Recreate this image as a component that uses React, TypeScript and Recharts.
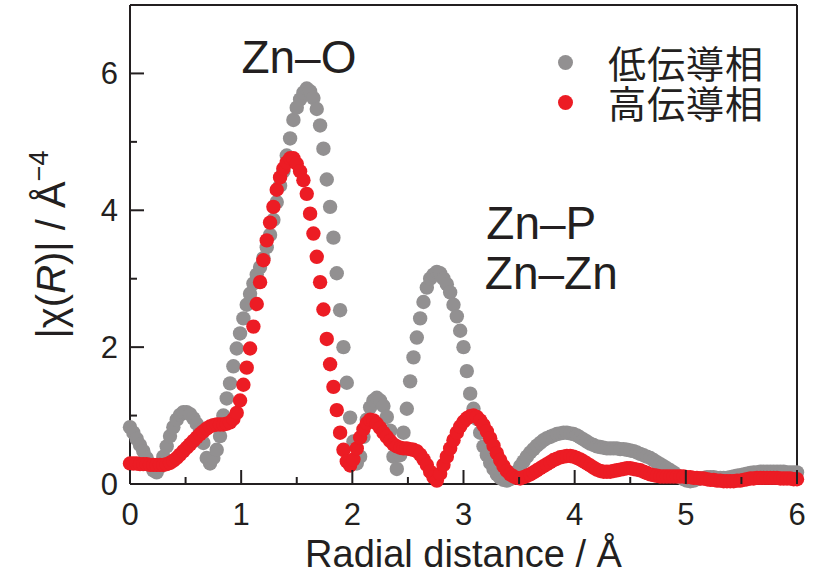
import React from 'react';
import { ScatterChart, Scatter, XAxis, YAxis, ReferenceDot, Legend } from 'recharts';

// Radial distance grid (Å)
const R = [
  0.00, 0.03, 0.06, 0.09, 0.12, 0.15, 0.18, 0.21, 0.24, 0.27,
  0.30, 0.33, 0.36, 0.39, 0.42, 0.45, 0.48, 0.51, 0.54, 0.57,
  0.60, 0.63, 0.66, 0.69, 0.72, 0.75, 0.78, 0.81, 0.84, 0.87,
  0.90, 0.93, 0.96, 0.99, 1.02, 1.05, 1.08, 1.11, 1.14, 1.17,
  1.20, 1.23, 1.26, 1.29, 1.32, 1.35, 1.38, 1.41, 1.44, 1.47,
  1.50, 1.53, 1.56, 1.59, 1.62, 1.65, 1.68, 1.71, 1.74, 1.77,
  1.80, 1.83, 1.86, 1.89, 1.92, 1.95, 1.98, 2.01, 2.04, 2.07,
  2.10, 2.13, 2.16, 2.19, 2.22, 2.25, 2.28, 2.31, 2.34, 2.37,
  2.40, 2.43, 2.46, 2.49, 2.52, 2.55, 2.58, 2.61, 2.64, 2.67,
  2.70, 2.73, 2.76, 2.79, 2.82, 2.85, 2.88, 2.91, 2.94, 2.97,
  3.00, 3.03, 3.06, 3.09, 3.12, 3.15, 3.18, 3.21, 3.24, 3.27,
  3.30, 3.33, 3.36, 3.39, 3.42, 3.45, 3.48, 3.51, 3.54, 3.57,
  3.60, 3.63, 3.66, 3.69, 3.72, 3.75, 3.78, 3.81, 3.84, 3.87,
  3.90, 3.93, 3.96, 3.99, 4.02, 4.05, 4.08, 4.11, 4.14, 4.17,
  4.20, 4.23, 4.26, 4.29, 4.32, 4.35, 4.38, 4.41, 4.44, 4.47,
  4.50, 4.53, 4.56, 4.59, 4.62, 4.65, 4.68, 4.71, 4.74, 4.77,
  4.80, 4.83, 4.86, 4.89, 4.92, 4.95, 4.98, 5.01, 5.04, 5.07,
  5.10, 5.13, 5.16, 5.19, 5.22, 5.25, 5.28, 5.31, 5.34, 5.37,
  5.40, 5.43, 5.46, 5.49, 5.52, 5.55, 5.58, 5.61, 5.64, 5.67,
  5.70, 5.73, 5.76, 5.79, 5.82, 5.85, 5.88, 5.91, 5.94, 5.97,
  6.00,
];

// 低伝導相 |χ(R)|
const lowPhase = [
  0.83, 0.75, 0.66, 0.57, 0.48, 0.38, 0.28, 0.20, 0.17, 0.25,
  0.40, 0.55, 0.70, 0.83, 0.94, 1.01, 1.05, 1.05, 1.02, 0.96,
  0.88, 0.78, 0.60, 0.38, 0.30, 0.38, 0.50, 0.70, 1.00, 1.25,
  1.47, 1.72, 1.98, 2.20, 2.42, 2.62, 2.78, 2.93, 3.06, 3.17,
  3.30, 3.46, 3.64, 3.86, 4.12, 4.36, 4.57, 4.80, 5.05, 5.32,
  5.50, 5.62, 5.72, 5.78, 5.74, 5.64, 5.48, 5.24, 4.90, 4.45,
  4.05, 3.60, 3.08, 2.54, 2.00, 1.48, 0.97, 0.62, 0.30, 0.40,
  0.69, 0.94, 1.12, 1.22, 1.26, 1.22, 1.14, 0.98, 0.78, 0.40,
  0.22, 0.42, 0.75, 1.10, 1.50, 1.85, 2.14, 2.42, 2.66, 2.87,
  3.00, 3.06, 3.10, 3.08, 3.00, 2.92, 2.80, 2.62, 2.45, 2.24,
  2.00, 1.65, 1.32, 1.10, 0.95, 0.75, 0.55, 0.42, 0.31, 0.22,
  0.14, 0.09, 0.06, 0.05, 0.07, 0.12, 0.18, 0.26, 0.33, 0.40,
  0.46, 0.51, 0.56, 0.60, 0.64, 0.67, 0.69, 0.71, 0.73, 0.74,
  0.75, 0.75, 0.74, 0.73, 0.71, 0.68, 0.65, 0.62, 0.59, 0.57,
  0.55, 0.54, 0.53, 0.52, 0.52, 0.52, 0.52, 0.51, 0.51, 0.50,
  0.49, 0.48, 0.46, 0.44, 0.42, 0.40, 0.38, 0.35, 0.32, 0.29,
  0.26, 0.23, 0.20, 0.17, 0.13, 0.10, 0.07, 0.05, 0.04, 0.05,
  0.07, 0.08, 0.09, 0.10, 0.10, 0.10, 0.09, 0.09, 0.09, 0.09,
  0.10, 0.11, 0.12, 0.13, 0.14, 0.15, 0.16, 0.17, 0.17, 0.18,
  0.18, 0.18, 0.18, 0.18, 0.18, 0.18, 0.18, 0.17, 0.17, 0.17,
  0.17,
];

// 高伝導相 |χ(R)|
const highPhase = [
  0.30, 0.30, 0.30, 0.29, 0.29, 0.29, 0.28, 0.28, 0.28, 0.28,
  0.28, 0.29, 0.31, 0.34, 0.38, 0.43, 0.48, 0.53, 0.58, 0.63,
  0.68, 0.73, 0.77, 0.81, 0.84, 0.86, 0.87, 0.87, 0.87, 0.88,
  0.90, 0.95, 1.04, 1.22, 1.45, 1.70, 1.98, 2.30, 2.63, 2.95,
  3.27, 3.56, 3.82, 4.05, 4.30, 4.48, 4.61, 4.70, 4.76, 4.76,
  4.68, 4.57, 4.44, 4.24, 3.95, 3.66, 3.32, 2.95, 2.55, 2.12,
  1.75, 1.42, 1.08, 0.75, 0.50, 0.33, 0.27, 0.36, 0.52, 0.68,
  0.80, 0.89, 0.94, 0.93, 0.88, 0.82, 0.75, 0.69, 0.63, 0.58,
  0.55, 0.53, 0.52, 0.52, 0.51, 0.50, 0.48, 0.43, 0.36, 0.28,
  0.18, 0.10, 0.05, 0.15, 0.28, 0.40, 0.52, 0.64, 0.75, 0.84,
  0.91, 0.96, 0.99, 1.00, 0.98, 0.93, 0.86, 0.77, 0.67, 0.56,
  0.45, 0.35, 0.26, 0.19, 0.14, 0.11, 0.09, 0.08, 0.10, 0.12,
  0.14, 0.17, 0.20, 0.23, 0.26, 0.29, 0.32, 0.35, 0.37, 0.39,
  0.40, 0.41, 0.41, 0.40, 0.38, 0.36, 0.33, 0.30, 0.27, 0.24,
  0.21, 0.19, 0.18, 0.18, 0.18, 0.19, 0.20, 0.21, 0.22, 0.23,
  0.23, 0.22, 0.21, 0.20, 0.18, 0.16, 0.14, 0.13, 0.12, 0.11,
  0.11, 0.11, 0.11, 0.11, 0.11, 0.11, 0.11, 0.10, 0.10, 0.09,
  0.09, 0.08, 0.08, 0.07, 0.06, 0.06, 0.05, 0.05, 0.04, 0.04,
  0.04, 0.04, 0.05, 0.05, 0.06, 0.07, 0.08, 0.08, 0.09, 0.09,
  0.09, 0.09, 0.09, 0.09, 0.09, 0.08, 0.08, 0.08, 0.08, 0.07,
  0.07,
];

const seriesNames = ['低伝導相', '高伝導相'];
const seriesColors = ['#929091', '#ec1c24'];

const xTicks = [0, 0.5, 1, 1.5, 2, 2.5, 3, 3.5, 4, 4.5, 5, 5.5, 6];
const yTicks = [0, 1, 2, 3, 4, 5, 6];

const annotations = [
  { label: 'Zn–O', x: 1.52, y: 6.0 },
  { label: 'Zn–P', x: 3.7, y: 3.58 },
  { label: 'Zn–Zn', x: 3.79, y: 2.85 },
];

const lowData = R.map((r, i) => ({ r, v: lowPhase[i] }));
const highData = R.map((r, i) => ({ r, v: highPhase[i] }));

const INK = '#231f20';
const FONT = '"Liberation Sans", Arial, Helvetica, sans-serif';
const CJK = '"Noto Sans CJK JP", "Noto Sans CJK SC", sans-serif';
const MAJOR = 14;
const MINOR = 7;

const isInt = (v: number) => Math.abs(v - Math.round(v)) < 1e-6;

const BottomTick = (props: any) => {
  const { x, y, payload } = props;
  const v = payload.value;
  const major = isInt(v);
  return (
    <g>
      <line x1={x} y1={y} x2={x} y2={y - (major ? MAJOR : MINOR)} stroke={INK} strokeWidth={2} />
      {major && (
        <text x={x} y={y + 41} textAnchor="middle" fontSize={31} fill={INK} fontFamily={FONT}>
          {v}
        </text>
      )}
    </g>
  );
};

const TopTick = (props: any) => {
  const { x, y, payload } = props;
  const major = isInt(payload.value);
  return <line x1={x} y1={y} x2={x} y2={y + (major ? MAJOR : MINOR)} stroke={INK} strokeWidth={2} />;
};

const LeftTick = (props: any) => {
  const { x, y, payload } = props;
  const v = payload.value;
  const major = v % 2 === 0;
  return (
    <g>
      <line x1={x} y1={y} x2={x + (major ? MAJOR : MINOR)} y2={y} stroke={INK} strokeWidth={2} />
      {major && (
        <text x={x - 12} y={y + 11} textAnchor="end" fontSize={31} fill={INK} fontFamily={FONT}>
          {v}
        </text>
      )}
    </g>
  );
};

const RightTick = (props: any) => {
  const { x, y, payload } = props;
  const major = payload.value % 2 === 0;
  return <line x1={x} y1={y} x2={x - (major ? MAJOR : MINOR)} y2={y} stroke={INK} strokeWidth={2} />;
};

const XLabel = (props: any) => {
  const vb = props.viewBox || {};
  const cx = vb.x + vb.width / 2;
  return (
    <text x={cx} y={vb.y + 83} textAnchor="middle" fontSize={38} fill={INK} fontFamily={FONT}>
      Radial distance / Å
    </text>
  );
};

const YLabel = (props: any) => {
  const vb = props.viewBox || {};
  const cx = vb.x - 5;
  const cy = vb.y + vb.height / 2;
  return (
    <text
      x={cx}
      y={cy}
      transform={`rotate(-90, ${cx}, ${cy})`}
      textAnchor="middle"
      fontSize={40}
      fill={INK}
      fontFamily={FONT}
    >
      |χ(<tspan fontStyle="italic">R</tspan>)| / Å
      <tspan dy={-17} fontSize={27}>−4</tspan>
    </text>
  );
};

const makeDot = (color: string) => (p: any) =>
  <circle cx={p.cx} cy={p.cy} r={7.2} fill={color} />;

const makeText = (label: string) => (p: any) => (
  <text x={p.cx} y={p.cy} textAnchor="middle" fontSize={46} fill={INK} fontFamily={FONT}>
    {label}
  </text>
);

const LegendContent = () => (
  <div style={{ display: 'flex', flexDirection: 'column' }}>
    {seriesNames.map((name, i) => (
      <div key={name} style={{ display: 'flex', alignItems: 'center', height: 40, overflow: 'visible' }}>
        <div
          style={{
            width: 15,
            height: 15,
            borderRadius: 8,
            background: seriesColors[i],
            marginLeft: 13,
            marginRight: 35,
            flex: 'none',
          }}
        />
        <span
          style={{
            display: 'inline-block',
            height: 38,
            fontFamily: CJK,
            fontSize: 38,
            lineHeight: '38px',
            color: INK,
            letterSpacing: 1,
            whiteSpace: 'nowrap',
          }}
        >
          {name}
        </span>
      </div>
    ))}
  </div>
);

export default function App() {
  return (
    <div style={{ position: 'absolute', left: 0, top: 0, width: 814, height: 578, background: '#fff' }}>
      <ScatterChart width={814} height={578} margin={{ top: 4, right: 16, bottom: 54, left: 70 }}>
        <XAxis
          dataKey="r"
          type="number"
          domain={[0, 6]}
          ticks={xTicks}
          interval={0}
          tickSize={0}
          tickMargin={0}
          tickLine={false}
          axisLine={{ stroke: INK, strokeWidth: 2 }}
          tick={<BottomTick />}
          height={40}
          label={<XLabel />}
        />
        <XAxis
          xAxisId="top"
          orientation="top"
          type="number"
          domain={[0, 6]}
          ticks={xTicks}
          interval={0}
          tickSize={0}
          tickMargin={0}
          tickLine={false}
          axisLine={{ stroke: INK, strokeWidth: 2 }}
          tick={<TopTick />}
          height={1}
        />
        <YAxis
          dataKey="v"
          type="number"
          domain={[0, 7]}
          ticks={yTicks}
          interval={0}
          tickSize={0}
          tickMargin={0}
          tickLine={false}
          axisLine={{ stroke: INK, strokeWidth: 2 }}
          tick={<LeftTick />}
          width={60}
          label={<YLabel />}
        />
        <YAxis
          yAxisId="right"
          orientation="right"
          type="number"
          domain={[0, 7]}
          ticks={yTicks}
          interval={0}
          tickSize={0}
          tickMargin={0}
          tickLine={false}
          axisLine={{ stroke: INK, strokeWidth: 2 }}
          tick={<RightTick />}
          width={1}
        />
        <Scatter
          name={seriesNames[0]}
          data={lowData}
          fill={seriesColors[0]}
          shape={makeDot(seriesColors[0])}
          isAnimationActive={false}
        />
        <Scatter
          name={seriesNames[1]}
          data={highData}
          fill={seriesColors[1]}
          shape={makeDot(seriesColors[1])}
          isAnimationActive={false}
        />
        {annotations.map((a) => (
          <ReferenceDot key={a.label} x={a.x} y={a.y} r={0} shape={makeText(a.label)} ifOverflow="visible" />
        ))}
        <Legend
          layout="horizontal"
          verticalAlign="middle"
          content={<LegendContent />}
          wrapperStyle={{ left: 545, top: 42, width: 250 }}
        />
      </ScatterChart>
    </div>
  );
}
